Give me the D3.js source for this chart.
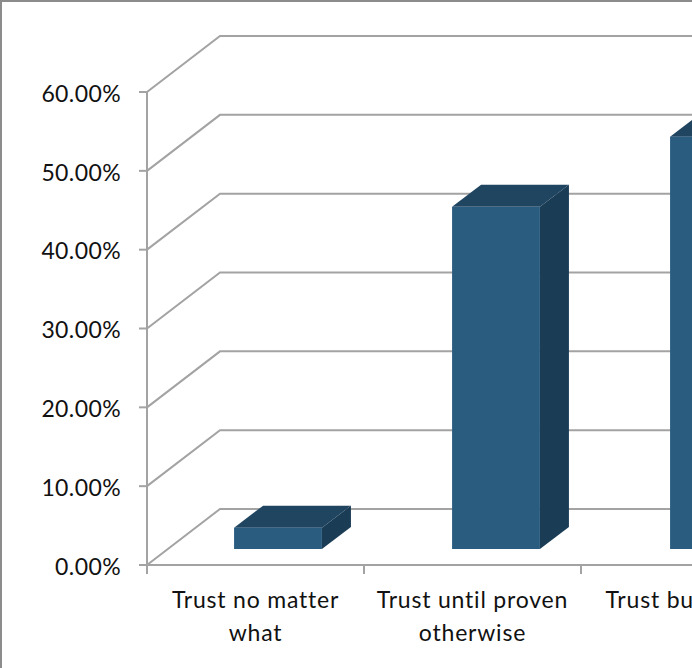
<!DOCTYPE html>
<html>
<head>
<meta charset="utf-8">
<script src="https://cdn.jsdelivr.net/npm/d3@7"></script>
<style>
html, body { margin: 0; padding: 0; background: #fff; overflow: hidden; }
svg { display: block; }
text { font-family: Lato, "Open Sans", sans-serif; fill: #111; }
</style>
</head>
<body>
<div id="grafica"></div>
<script>
// datos
var categories = ["Trust no matter what", "Trust until proven otherwise", "Trust but"];
var values = [2.7, 43.4, 52.3];
var yTicks = [0, 10, 20, 30, 40, 50, 60];
// etiquetas por linea (la tercera sale cortada por el borde en el original)
var labelLines = [["Trust no matter", "what"], ["Trust until proven", "otherwise"], ["Trust bu"]];

var width = 692, height = 668;
var left = 147, floorY = 565, topY = 92, step = 218, tickStep = 217;
// profundidad de la pared y de las barras
var wall = {dx: 73, dy: 56};
var barDepth = {dx: 29, dy: 22};
var barShift = {dx: 22, dy: 16};

var colorFront = "#2a5c80", colorTop = "#204560", colorSide = "#1b3c55", colorLine = "#a3a3a3";

var svg = d3.select("#grafica")
  .append("svg")
  .attr("width", width)
  .attr("height", height);

// marco
svg.append("path")
  .attr("d", "M1," + height + "V1H" + width)
  .attr("fill", "none")
  .attr("stroke", "#8c8c8c")
  .attr("stroke-width", 2);

// escalas
var x = d3.scaleBand()
  .domain(categories)
  .range([left, left + step * categories.length])
  .paddingInner(0.597)
  .paddingOuter(0.2985);

var y = d3.scaleLinear()
  .domain([0, 60])
  .range([floorY, topY]);

var xTicks = d3.scaleLinear()
  .domain([0, categories.length])
  .range([left, left + tickStep * categories.length]);

// rejilla
svg.selectAll("path.grid")
  .data(yTicks)
  .enter()
  .append("path")
  .attr("class", "grid")
  .attr("d", function(d) {
    var p = d3.path();
    p.moveTo(left, y(d));
    p.lineTo(left + wall.dx, y(d) - wall.dy);
    p.lineTo(width, y(d) - wall.dy);
    return p.toString();
  })
  .attr("fill", "none")
  .attr("stroke", colorLine)
  .attr("stroke-width", 2);

// eje Y
var yAxis = svg.append("g")
  .attr("transform", "translate(" + left + ",0)")
  .call(d3.axisLeft(y)
    .offset(0)
    .tickValues(yTicks)
    .tickSize(8)
    .tickPadding(18)
    .tickFormat(function(d) { return d3.format(".2f")(d) + "%"; }));

// eje X
var xAxis = svg.append("g")
  .attr("transform", "translate(0," + floorY + ")")
  .call(d3.axisBottom(xTicks)
    .offset(0)
    .tickValues(d3.range(categories.length + 1))
    .tickSize(9)
    .tickFormat(""));

svg.selectAll(".domain, .tick line")
  .attr("stroke", colorLine)
  .attr("stroke-width", 2);

yAxis.selectAll("text")
  .attr("dy", "0.42em")
  .style("font-size", "23px")
  .style("letter-spacing", "0.4px")
  .style("fill", "#111");

// barras 3D
var bars = svg.selectAll("g.barra")
  .data(values)
  .enter()
  .append("g")
  .attr("class", "barra");

function x0(i) { return x(categories[i]) + barShift.dx; }
function x1(i) { return x0(i) + x.bandwidth(); }
function yTop(d) { return y(d) - barShift.dy; }
var yBase = y(0) - barShift.dy;

bars.append("path")
  .attr("fill", colorSide)
  .attr("d", function(d, i) {
    return "M" + x1(i) + "," + yTop(d)
      + "l" + barDepth.dx + "," + (-barDepth.dy)
      + "V" + (yBase - barDepth.dy)
      + "l" + (-barDepth.dx) + "," + barDepth.dy + "Z";
  });

bars.append("path")
  .attr("fill", colorTop)
  .attr("d", function(d, i) {
    return "M" + x0(i) + "," + yTop(d)
      + "l" + barDepth.dx + "," + (-barDepth.dy)
      + "H" + (x1(i) + barDepth.dx)
      + "l" + (-barDepth.dx) + "," + barDepth.dy + "Z";
  });

bars.append("rect")
  .attr("x", function(d, i) { return x0(i); })
  .attr("y", function(d) { return yTop(d); })
  .attr("width", x.bandwidth())
  .attr("height", function(d) { return yBase - yTop(d); })
  .attr("fill", colorFront);

// etiquetas X
var labels = svg.selectAll("text.cat")
  .data(labelLines)
  .enter()
  .append("text")
  .attr("class", "cat")
  .style("font-size", "23px")
  .style("letter-spacing", "0.8px");

labels.selectAll("tspan")
  .data(function(d, i) { return d.map(function(t) { return {t: t, i: i}; }); })
  .enter()
  .append("tspan")
  .attr("x", function(d) {
    var mid = xTicks(d.i + 0.5);
    return d.i < 2 ? mid : mid - 84;
  })
  .attr("y", function(d, j) { return 608 + j * 33; })
  .attr("text-anchor", function(d) { return d.i < 2 ? "middle" : "start"; })
  .text(function(d) { return d.t; });
</script>
</body>
</html>
